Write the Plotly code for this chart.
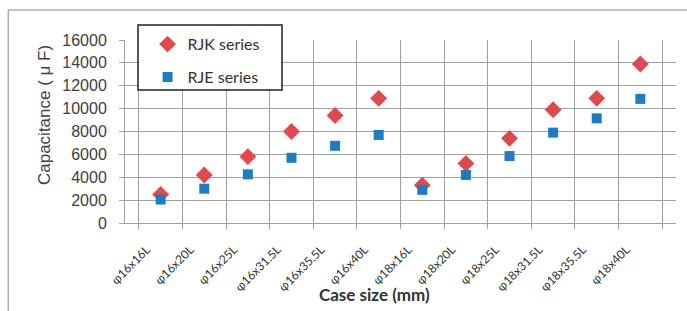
import plotly.graph_objects as go

categories = ["φ16x16L", "φ16x20L", "φ16x25L", "φ16x31.5L", "φ16x35.5L", "φ16x40L",
              "φ18x16L", "φ18x20L", "φ18x25L", "φ18x31.5L", "φ18x35.5L", "φ18x40L"]
rjk_values = [2500, 4200, 5800, 8000, 9400, 10900, 3300, 5200, 7400, 9900, 10900, 13900]
rje_values = [2050, 3000, 4250, 5700, 6750, 7700, 2900, 4200, 5850, 7900, 9150, 10850]
y_ticks = [0, 2000, 4000, 6000, 8000, 10000, 12000, 14000, 16000]
y_tick_labels = [str(v) for v in y_ticks]

fig = go.Figure()
fig.add_trace(go.Scatter(x=categories, y=rjk_values, mode="markers", name="RJK series",
                         legendgroup="a",
                         marker=dict(symbol="diamond", size=13, color="#DE4A4E")))
fig.add_trace(go.Scatter(x=categories, y=rje_values, mode="markers", name="RJE series",
                         legendgroup="b",
                         marker=dict(symbol="square", size=10, color="#1E7CC2")))

grid = "#9ea39c"
fig.update_layout(
    width=687, height=311,
    margin=dict(l=125, r=11, t=40, b=88),
    paper_bgcolor="white", plot_bgcolor="white",
    font=dict(family="Liberation Sans, Arial", color="#333333"),
    legend=dict(x=0.041, y=1.07, xanchor="left", yanchor="top",
                bgcolor="rgba(255,255,255,0)", borderwidth=0,
                font=dict(family="Lato, Open Sans", size=16, color="#333333"),
                tracegroupgap=9),
    shapes=[
        dict(type="rect", xref="paper", yref="paper", x0=0.0236, x1=0.285, y0=0.727, y1=1.082,
             line=dict(color="#222222", width=1.5), fillcolor="white", layer="above"),
        dict(type="line", xref="paper", yref="paper", x0=-0.212, x1=1.05, y0=1.164, y1=1.164,
             line=dict(color="#8a8590", width=1)),
        dict(type="line", xref="paper", yref="paper", x0=-0.212, x1=-0.212, y0=1.164, y1=-0.6,
             line=dict(color="#8a8590", width=1)),
    ],
    annotations=[
        dict(text="Capacitance ( μ F)", xref="paper", yref="paper", x=-0.147, y=0.59,
             textangle=-90, showarrow=False, xanchor="center", yanchor="middle",
             font=dict(family="Liberation Sans, Arial", size=17, color="#404040")),
        dict(text="<b>Case size (mm)</b>", xref="paper", yref="paper", x=0.452, y=-0.393,
             showarrow=False, xanchor="center", yanchor="middle",
             font=dict(family="Lato, Open Sans", size=17, color="#333333")),
    ],
)
fig.update_xaxes(
    type="category", tickson="boundaries", showgrid=True, gridcolor=grid, gridwidth=1,
    ticks="outside", ticklen=5, tickcolor=grid, showline=True, linecolor=grid,
    tickangle=-45, tickfont=dict(family="Lato, Open Sans", size=12, color="#333333"),
    ticklabelshift=-14, ticklabelstandoff=14,
    automargin=False,
)
fig.update_yaxes(
    range=[0, 16000], tickvals=y_ticks, ticktext=y_tick_labels, showgrid=True, gridcolor=grid, gridwidth=1,
    ticks="outside", ticklen=5, tickcolor=grid, showline=True, linecolor=grid,
    tickfont=dict(size=16, color="#404040"), ticklabelstandoff=9,
    zeroline=False, automargin=False,
)
fig.write_html(
    "out.html",
    config={"responsive": False, "displayModeBar": False},
    post_script="document.body.style.margin='0';document.body.style.overflow='hidden';",
)
